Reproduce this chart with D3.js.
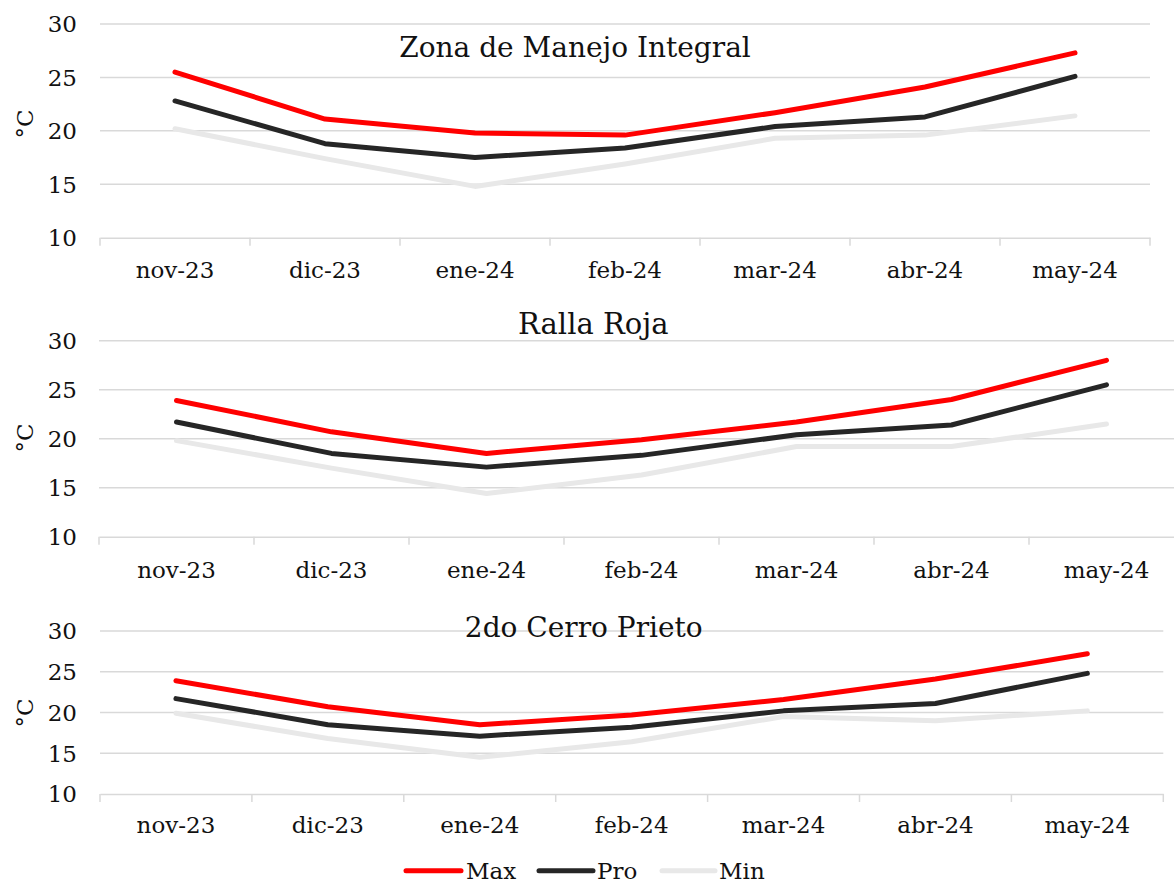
<!DOCTYPE html>
<html>
<head>
<meta charset="utf-8">
<script src="https://cdn.jsdelivr.net/npm/d3@7"></script>
<style>
  html, body { margin: 0; padding: 0; background: #fff; }
  svg { display: block; }
  text { font-family: "DejaVu Serif", serif; fill: #111; }
</style>
</head>
<body>
<svg id="chart" width="1174" height="884"></svg>
<script>
const months = ["nov-23", "dic-23", "ene-24", "feb-24", "mar-24", "abr-24", "may-24"];
const yTicks = [10, 15, 20, 25, 30];
const seriesNames = ["Max", "Pro", "Min"];
const seriesColors = ["#ff0000", "#262626", "#e8e8e8"];

const titles = ["Zona de Manejo Integral", "Ralla Roja", "2do Cerro Prieto"];

const zmiMax = [25.5, 21.1, 19.8, 19.6, 21.7, 24.1, 27.3];
const zmiPro = [22.8, 18.8, 17.5, 18.4, 20.4, 21.3, 25.1];
const zmiMin = [20.2, 17.4, 14.8, 16.9, 19.3, 19.6, 21.4];

const rrMax = [23.9, 20.7, 18.5, 19.9, 21.7, 24.0, 28.0];
const rrPro = [21.7, 18.5, 17.1, 18.3, 20.4, 21.4, 25.5];
const rrMin = [19.8, 17.0, 14.4, 16.3, 19.2, 19.2, 21.5];

const cpMax = [23.9, 20.7, 18.5, 19.7, 21.6, 24.1, 27.2];
const cpPro = [21.7, 18.5, 17.1, 18.2, 20.2, 21.1, 24.8];
const cpMin = [19.9, 16.8, 14.5, 16.4, 19.5, 19.0, 20.2];

const panelData = [
  [zmiMax, zmiPro, zmiMin],
  [rrMax, rrPro, rrMin],
  [cpMax, cpPro, cpMin]
];

// layout per panel
const layouts = [
  { left: 100, right: 1150, top: 24,    bottom: 237.7, titleX: 575,   titleY: 56.7, titleSize: 28, labelY: 278, unitY: 124 },
  { left: 99,  right: 1184, top: 340.7, bottom: 536.7, titleX: 593.3, titleY: 334.3, titleSize: 29, labelY: 578, unitY: 438 },
  { left: 100, right: 1163.3, top: 631, bottom: 794,   titleX: 583.8, titleY: 636.7, titleSize: 28, labelY: 833, unitY: 713 }
];

const svg = d3.select("#chart");
const gridColor = "#d9d9d9";

layouts.forEach((L, pi) => {
  const g = svg.append("g");
  const x = d3.scaleBand().domain(months).range([L.left, L.right]).paddingInner(0).paddingOuter(0);
  const y = d3.scaleLinear().domain([10, 30]).range([L.bottom, L.top]);

  // gridlines
  g.selectAll("line.grid").data(yTicks.filter(t => t !== 10)).enter().append("line")
    .attr("x1", L.left).attr("x2", L.right)
    .attr("y1", d => y(d)).attr("y2", d => y(d))
    .attr("stroke", gridColor).attr("stroke-width", 1.5);

  // y tick labels
  g.selectAll("text.yt").data(yTicks).enter().append("text")
    .attr("x", 77).attr("y", d => y(d)).attr("dy", "0.36em")
    .attr("text-anchor", "end").attr("font-size", 23)
    .text(d => d);

  // x axis
  const xAxis = d3.axisBottom(x).tickSize(0).tickFormat("");
  const ax = g.append("g").attr("transform", `translate(0,${y(10)})`).call(xAxis);
  ax.select(".domain").attr("stroke", gridColor).attr("stroke-width", 1.5);
  ax.selectAll(".tick").remove();

  // tick marks at band boundaries
  const bounds = months.map(m => x(m)).concat([x(months[months.length - 1]) + x.bandwidth()]);
  g.selectAll("line.tk").data(bounds).enter().append("line")
    .attr("x1", d => d).attr("x2", d => d)
    .attr("y1", y(10)).attr("y2", y(10) + 8)
    .attr("stroke", gridColor).attr("stroke-width", 1.5);

  // x labels
  g.selectAll("text.xl").data(months).enter().append("text")
    .attr("x", d => x(d) + x.bandwidth() / 2).attr("y", L.labelY)
    .attr("text-anchor", "middle").attr("font-size", 23)
    .text(d => d);

  // unit label
  g.append("text")
    .attr("transform", `translate(33,${L.unitY}) rotate(-90)`)
    .attr("text-anchor", "middle").attr("font-size", 23)
    .text("°C");

  // title
  g.append("text")
    .attr("x", L.titleX).attr("y", L.titleY)
    .attr("text-anchor", "middle").attr("font-size", L.titleSize)
    .text(titles[pi]);

  // lines
  const line = d3.line()
    .x((d, i) => x(months[i]) + x.bandwidth() / 2)
    .y(d => y(d));
  panelData[pi].forEach((vals, si) => {
    g.append("path")
      .datum(vals)
      .attr("d", line)
      .attr("fill", "none")
      .attr("stroke", seriesColors[si])
      .attr("stroke-width", 5)
      .attr("stroke-linecap", "round")
      .attr("stroke-linejoin", "round");
  });
});

// legend
const legendItems = [
  { x1: 406, x2: 461, tx: 466 },
  { x1: 539, x2: 593, tx: 597 },
  { x1: 662, x2: 715, tx: 719 }
];
const lg = svg.append("g");
seriesNames.forEach((name, i) => {
  const it = legendItems[i];
  lg.append("line")
    .attr("x1", it.x1).attr("x2", it.x2)
    .attr("y1", 870.7).attr("y2", 870.7)
    .attr("stroke", seriesColors[i]).attr("stroke-width", 5)
    .attr("stroke-linecap", "round");
  lg.append("text")
    .attr("x", it.tx).attr("y", 879)
    .attr("font-size", 23)
    .text(name);
});
</script>
</body>
</html>
